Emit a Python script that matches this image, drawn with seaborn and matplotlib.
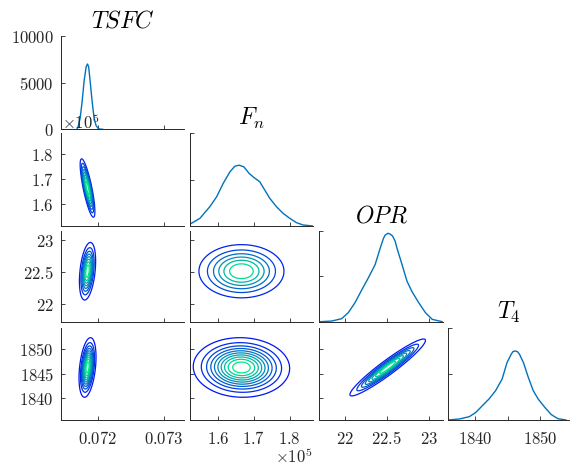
import numpy as np
import matplotlib
matplotlib.use("Agg")
import matplotlib.pyplot as plt
import seaborn as sns

# ---------------- data ----------------
var_titles = [r"$TSFC$", r"$F_n$", r"$OPR$", r"$T_4$"]

# diagonal marginal density curves (x, density)
tsfc_x = [0.071685, 0.071704, 0.071734, 0.071764, 0.071794, 0.071824, 0.071844,
          0.071862, 0.071884, 0.071914, 0.071944, 0.071974, 0.072005, 0.072035, 0.072080]
tsfc_d = [0, 300, 1200, 3000, 5200, 6700, 7000, 6700, 5200, 3000, 1200, 400, 100, 20, 0]

fn_x = [152100, 154890, 157680, 159550, 161400, 163270, 164660, 165870, 167180, 168660,
        169970, 171650, 173040, 174440, 176310, 178150, 180020, 181900, 183740, 186530]
fn_d = [0.20e-5, 0.83e-5, 2.1e-5, 3.15e-5, 4.6e-5, 5.84e-5, 6.45e-5, 6.56e-5, 6.38e-5, 5.67e-5,
        5.24e-5, 4.76e-5, 3.87e-5, 2.98e-5, 2.08e-5, 1.37e-5, 0.83e-5, 0.36e-5, 0.11e-5, 0.0]

opr_x = [21.700, 21.840, 21.960, 22.040, 22.120, 22.200, 22.280, 22.360, 22.420, 22.460,
         22.480, 22.513, 22.540, 22.568, 22.600, 22.621, 22.681, 22.741, 22.801, 22.880,
         22.960, 23.041, 23.161]
opr_d = [0.0, 0.014, 0.066, 0.20, 0.42, 0.70, 0.97, 1.26, 1.62, 1.84,
         1.91, 1.95, 1.93, 1.89, 1.77, 1.62, 1.26, 0.89, 0.66, 0.42,
         0.20, 0.052, 0.0]

t4_x = [1835.78, 1837.56, 1839.09, 1840.11, 1841.11, 1842.13, 1843.15, 1844.16, 1844.92, 1845.59,
        1845.83, 1846.19, 1846.54, 1846.85, 1847.46, 1848.22, 1848.98, 1849.74, 1850.76, 1851.77,
        1852.79, 1854.05]
t4_d = [0.0, 0.0022, 0.0072, 0.0166, 0.031, 0.0454, 0.0634, 0.0886, 0.1244, 0.143,
        0.148, 0.1496, 0.148, 0.1424, 0.1244, 0.092, 0.0634, 0.0454, 0.0274, 0.0116,
        0.0028, 0.0]

# joint distribution summary
means = [0.071845, 166500.0, 22.51, 1846.3]
stds = [5.7e-5, 6000.0, 0.21, 2.7]
corr = {(1, 0): -0.8, (2, 0): 0.35, (3, 0): 0.35,
        (2, 1): 0.0, (3, 1): -0.03, (3, 2): 0.95}

# axis ranges / ticks
x_limits = [(0.071445, 0.07330), (152100, 186530), (21.69, 23.17), (1835.8, 1854.5)]
y_limits = [None, (151300, 188400), (21.72, 23.14), (1835.6, 1854.4)]
diag_ylim = [(0, 10000), (0, 1e-4), (0, 2), (0, 0.2)]
diag_yticks = [[0, 5000, 10000], [0, 5e-5, 1e-4], [0, 1, 2], [0, 0.1, 0.2]]
diag_yticklabels = ["0", "5000", "10000"]
var_ticks = [[0.072, 0.073], [160000, 170000, 180000], [22, 22.5, 23], [1840, 1845, 1850]]
x_ticklabels = [["0.072", "0.073"], ["1.6", "1.7", "1.8"], ["22", "22.5", "23"], ["1840", "", "1850"]]
y_ticklabels = [None, ["1.6", "1.7", "1.8"], ["22", "22.5", "23"], ["1840", "1845", "1850"]]

# ---------------- styling ----------------
sns.set_style("ticks")
plt.rcParams["mathtext.fontset"] = "cm"
plt.rcParams["font.family"] = ["DejaVu Sans"]
axc = (0.15, 0.15, 0.15)
line_blue = (0.0, 0.447, 0.741)
levels_spec = {(1, 0): (8, 0.15, 0.90), (2, 0): (8, 0.10, 0.90), (3, 0): (10, 0.08, 0.92),
               (2, 1): (6, 0.14, 0.86), (3, 1): (10, 0.08, 0.92), (3, 2): (8, 0.10, 0.90)}
winter = plt.get_cmap("winter")

W, H = 570, 466
fig = plt.figure(figsize=(W / 100, H / 100), dpi=100)

col_left = [61, 190, 319, 448]
col_w = [123, 123, 124, 121]
row_top = [36, 133.3, 231, 327.7]
row_bot = [129.3, 226, 321.7, 420]


def make_ax(r, c):
    l = col_left[c] / W
    b = 1 - row_bot[r] / H
    w = col_w[c] / W
    h = (row_bot[r] - row_top[r]) / H
    ax = fig.add_axes([l, b, w, h])
    for s in ["top", "right"]:
        ax.spines[s].set_visible(False)
    for s in ["left", "bottom"]:
        ax.spines[s].set_color(axc)
        ax.spines[s].set_linewidth(0.7)
    ax.tick_params(direction="in", length=3, width=0.6, color=axc, labelcolor=axc,
                   labelsize=12, top=False, right=False)
    ax.tick_params(axis="y", pad=5)
    ax.tick_params(axis="x", pad=7)
    return ax


def math(lbls):
    return [f"${s}$" if s else "" for s in lbls]


diag_x = [tsfc_x, fn_x, opr_x, t4_x]
diag_d = [tsfc_d, fn_d, opr_d, t4_d]

for r in range(4):
    for c in range(r + 1):
        ax = make_ax(r, c)
        if r == c:
            sns.lineplot(x=diag_x[r], y=diag_d[r], ax=ax, color=line_blue, lw=1.0)
            ax.set_ylim(*diag_ylim[r])
            ax.set_yticks(diag_yticks[r])
            if r == 0:
                ax.set_yticklabels(math(diag_yticklabels))
            else:
                ax.set_yticklabels([])
            ax.set_title(var_titles[r], fontsize=17, pad=6, color="black")
        else:
            xl, yl = x_limits[c], y_limits[r]
            gx = np.linspace(xl[0], xl[1], 400)
            gy = np.linspace(yl[0], yl[1], 400)
            GX, GY = np.meshgrid(gx, gy)
            u = (GX - means[c]) / stds[c]
            v = (GY - means[r]) / stds[r]
            rho = corr[(r, c)]
            Z = np.exp(-0.5 / (1 - rho ** 2) * (u ** 2 - 2 * rho * u * v + v ** 2))
            n, lo, hi = levels_spec[(r, c)]
            lev = np.linspace(lo, hi, n)
            ax.contour(GX, GY, Z, levels=lev, colors=[winter(f) for f in lev], linewidths=0.9)
            ax.set_ylim(*yl)
            ax.set_yticks(var_ticks[r])
            if c == 0:
                ax.set_yticklabels(math(y_ticklabels[r]))
            else:
                ax.set_yticklabels([])
        ax.set_xlim(*x_limits[c])
        ax.set_xticks(var_ticks[c])
        if r == 3:
            ax.set_xticklabels(math(x_ticklabels[c]))
        else:
            ax.set_xticklabels([])
        ax.set_xlabel("")
        ax.set_ylabel("")
        if r == 1 and c == 0:
            ax.text(0.005, 1.0, r"$\times10^5$", transform=ax.transAxes, ha="left",
                    va="bottom", fontsize=12, color=axc)
        if r == 3 and c == 1:
            ax.text(1.0, -0.30, r"$\times10^5$", transform=ax.transAxes, ha="right",
                    va="top", fontsize=12, color=axc)

fig.savefig("out.png", dpi=100)
